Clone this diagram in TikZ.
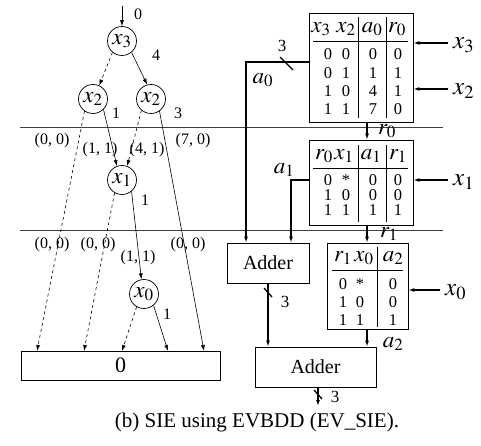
\documentclass[tikz,border=0pt]{standalone}
\usepackage{mathptmx}
\usepackage[no-math]{fontspec}
\setmainfont{Liberation Serif}
\usetikzlibrary{arrows.meta,calc}
\newcommand\fs[1]{\fontsize{#1}{#1}\selectfont}
\begin{document}
\begin{tikzpicture}[x=1pt,y=-1pt,
  bdd/.style={circle,draw,line width=0.7pt,minimum size=29pt,inner sep=0pt,font=\fs{23}},
  tip/.style={-{Latex[length=6pt,width=4pt]}},
  thin/.style={line width=0.6pt},
  thk/.style={line width=1.3pt},
  elab/.style={font=\fs{16},inner sep=0pt},
  boxs/.style={draw,line width=0.8pt,inner sep=0pt},
  cell/.style={font=\fs{16.5},inner sep=0pt,text height=11pt,text depth=0pt},
  hcell/.style={font=\fs{23},inner sep=0pt},
  sidel/.style={font=\fs{25},inner sep=0pt},
  sep/.style={line width=0.6pt,draw=black!75}]
\useasboundingbox (0,0) rectangle (481,446);
% separators
\draw[sep] (20,127) -- (443,127);
\draw[sep] (20,230) -- (443,230);
% ---------- BDD ----------
\node[bdd] (x3) at (122,41) {$x_3$};
\node[bdd] (x2l) at (93,99) {$x_2$};
\node[bdd] (x2r) at (151,99) {$x_2$};
\node[bdd] (x1) at (122,180) {$x_1$};
\node[bdd] (x0) at (144,294) {$x_0$};
\node[boxs,minimum width=199pt,minimum height=29pt,font=\fs{22}] (zero) at (120.5,365.5) {0};
\coordinate (top) at (122,6);
\coordinate (e1) at (37,351);
\coordinate (e2) at (84,351);
\coordinate (e3) at (122,351);
\coordinate (e4) at (168,351);
\coordinate (e5) at (204,351);
\draw[thin,tip] (top) -- (x3);
\node[elab] (l0) at (138,14) {0};
\draw[thin,tip,dashed] (x3.230) -- (x2l.65);
\draw[thin,tip] (x3.-50) -- (x2r.105);
\node[elab] (l4) at (156,55) {4};
\draw[thin,tip,dashed] (x2l.-125) -- (e1);
\draw[thin,tip] (x2l.-45) -- (x1.110);
\node[elab] (l1a) at (116,113) {1};
\draw[thin,tip,dashed] (x2r.-130) -- (x1.70);
\draw[thin,tip] (x2r.-55) -- (e5);
\node[elab] (l3) at (178,113) {3};
\draw[thin,tip,dashed] (x1.-120) -- (e2);
\draw[thin,tip] (x1.-50) -- (x0.100);
\node[elab] (l1b) at (145,200) {1};
\draw[thin,tip,dashed] (x0.-120) -- (e3);
\draw[thin,tip] (x0.-50) -- (e4);
\node[elab] (l1c) at (167,314) {1};
\node[elab] at (52,141) {(0, 0)};
\node[elab] at (100,150) {(1, 1)};
\node[elab] at (147,150) {(4, 1)};
\node[elab] at (193,141) {(7, 0)};
\node[elab] at (52,245) {(0, 0)};
\node[elab] at (98,245) {(0, 0)};
\node[elab] at (138,258) {(1, 1)};
\node[elab] at (188,245) {(0, 0)};
% ---------- Table 1 ----------
\node[boxs,minimum width=104pt,minimum height=109pt] (t1) at (361,67.5) {};
\draw[thin] (313,41) -- (408,41);
\draw[thin] (358,17) -- (358,118);
\draw[thin] (386,17) -- (386,118);
\node[hcell] at (321,29) {$x_3$};
\node[hcell] at (346,29) {$x_2$};
\node[hcell] at (372,29) {$a_0$};
\node[hcell] at (397,29) {$r_0$};
\foreach \y/\a/\b/\c/\d in {54/0/0/0/0,73/0/1/1/1,91/1/0/4/1,109/1/1/7/0}{
  \node[cell] at (328,\y) {\a};
  \node[cell] at (346,\y) {\b};
  \node[cell] at (373,\y) {\c};
  \node[cell] at (398,\y) {\d};
}
% ---------- Table 2 ----------
\node[boxs,minimum width=104pt,minimum height=85pt] (t2) at (361,182.5) {};
\draw[thin] (313,168) -- (408,168);
\draw[thin] (358,145) -- (358,222);
\draw[thin] (386,145) -- (386,222);
\node[hcell] at (324,156) {$r_0$};
\node[hcell] at (344,156) {$x_1$};
\node[hcell] at (371,156) {$a_1$};
\node[hcell] at (398,156) {$r_1$};
\foreach \y/\a/\b/\c/\d in {180/0/*/0/0,195/1/0/0/0,210/1/1/1/1}{
  \node[cell] at (328,\y) {\a};
  \node[cell] at (346,\y) {\b};
  \node[cell] at (373,\y) {\c};
  \node[cell] at (398,\y) {\d};
}
% ---------- Table 3 ----------
\node[boxs,minimum width=81pt,minimum height=86pt] (t3) at (367.5,286) {};
\draw[thin] (332,270) -- (403,270);
\draw[thin] (377,247) -- (377,327);
\node[hcell] at (343,258) {$r_1$};
\node[hcell] at (364,258) {$x_0$};
\node[hcell] at (393,258) {$a_2$};
\foreach \y/\a/\b/\c in {284/0/*/0,302/1/0/0,320/1/1/1}{
  \node[cell] at (343,\y) {\a};
  \node[cell] at (360,\y) {\b};
  \node[cell] at (393,\y) {\c};
}
% ---------- side inputs ----------
\node[sidel,anchor=west] (s3) at (453,45) {$x_3$};
\node[sidel,anchor=west] (s2) at (453,91) {$x_2$};
\node[sidel,anchor=west] (s1) at (453,182) {$x_1$};
\node[sidel,anchor=west] (s0) at (445,292) {$x_0$};
\coordinate (i3) at (448,43);
\coordinate (i2) at (448,89);
\coordinate (i1) at (448,180);
\coordinate (i0) at (440,290);
\draw[thk,tip] (i3) -- (i3 -| t1.east);
\draw[thk,tip] (i2) -- (i2 -| t1.east);
\draw[thk,tip] (i1) -- (i1 -| t2.east);
\draw[thk,tip] (i0) -- (i0 -| t3.east);
% ---------- adders ----------
\node[boxs,minimum width=82pt,minimum height=40pt,font=\fs{20}] (ad1) at (268,263) {Adder};
\node[boxs,minimum width=121pt,minimum height=40pt,font=\fs{20}] (ad2) at (315.5,367) {Adder};
% a0
\coordinate (a0c) at (246,62);
\draw[thk,tip] (t1.west |- a0c) -- (a0c) -- (a0c |- ad1.north);
\draw[thk] (280,57) -- (293,70);
\node[elab,font=\fs{17}] at (282,46) {3};
\node[hcell] at (263,80) {$a_0$};
% a1
\coordinate (a1c) at (291,180);
\draw[thk,tip] (t2.west |- a1c) -- (a1c) -- (a1c |- ad1.north);
\node[hcell] at (284,170) {$a_1$};
% r0, r1, a2
\draw[thk,tip] (t1.south -| 367,0) -- (t2.north -| 367,0);
\node[hcell] at (387,131) {$r_0$};
\draw[thk,tip] (t2.south -| 367,0) -- (t3.north -| 367,0);
\node[hcell] at (389,234) {$r_1$};
\draw[thk,tip] (t3.south -| 367,0) -- (ad2.north -| 367,0);
\node[hcell] at (393,344) {$a_2$};
% adder outputs
\draw[thk,tip] (ad1.south) -- (ad1.south |- ad2.north);
\draw[thk] (264,288) -- (272,297);
\node[elab,font=\fs{17}] at (285,302) {3};
\coordinate (outc) at (318,406);
\draw[thk,tip] (ad2.south -| outc) -- (outc);
\draw[thk] (314,390) -- (322,399);
\node[elab,font=\fs{17}] at (335,397) {3};
% caption
\node[font=\fs{21}] (cap) at (257,422) {(b) SIE using EVBDD (EV\_SIE).};
\end{tikzpicture}
\end{document}
